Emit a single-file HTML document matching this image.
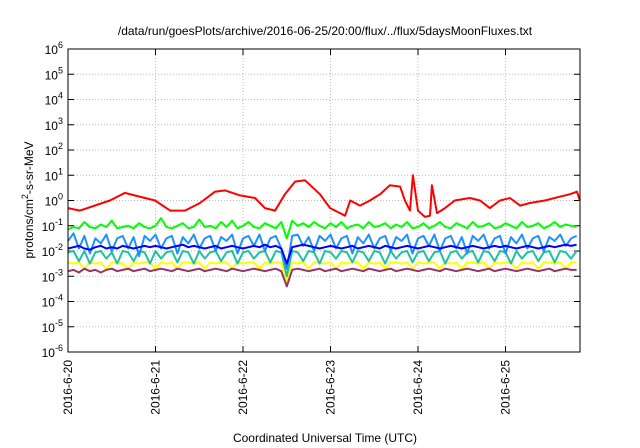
<!DOCTYPE html>
<html><head><meta charset="utf-8"><style>
body{margin:0;background:#fff;}
svg{display:block;font-family:"Liberation Sans",sans-serif;}
</style></head><body>
<svg id="chart" width="640" height="448" viewBox="0 0 640 448"></svg>
<script>
// ---- data ----
const dayLabels = ["2016-6-20","2016-6-21","2016-6-22","2016-6-23","2016-6-24","2016-6-25"];
const yTickExps = [-6,-5,-4,-3,-2,-1,0,1,2,3,4,5,6];
const hours = [0,1.5,3,4.5,6,7.5,9,10.5,12,13.5,15,16.5,18,19.5,21,22.5,24,25.5,27,28.5,30,31.5,33,34.5,36,37.5,39,40.5,42,43.5,45,46.5,48,49.5,51,52.5,54,55.5,57,58.5,60,61.5,63,64.5,66,67.5,69,70.5,72,73.5,75,76.5,78,79.5,81,82.5,84,85.5,87,88.5,90,91.5,93,94.5,96,97.5,99,100.5,102,103.5,105,106.5,108,109.5,111,112.5,114,115.5,117,118.5,120,121.5,123,124.5,126,127.5,129,130.5,132,133.5,135,136.5,138,139.5];
const redHours = [0,3.3,11.5,15.6,21.1,23.9,28.0,32.1,36.2,40.3,43.1,47.2,51.3,54.0,56.8,59.5,62.3,65.0,69.1,71.9,74.6,76.0,77.4,80.1,82.8,85.6,88.3,91.1,92.4,93.8,94.6,96.0,97.9,99.3,99.8,101.2,103.4,106.1,110.2,113.0,115.7,118.5,121.2,124.0,126.7,130.8,134.9,137.7,139.6,140.4];
const redLog = [-0.3,-0.4,0,0.3,0.1,0,-0.4,-0.4,-0.1,0.35,0.4,0.2,0.1,-0.3,-0.4,0.25,0.75,0.8,0.25,-0.3,-0.5,-0.6,0,-0.2,0,0.25,0.6,0.55,0,-0.4,1.0,-0.4,-0.65,-0.6,0.6,-0.5,-0.3,0,0.1,0,-0.3,0,0.1,-0.2,-0.1,0,0.15,0.25,0.35,0];
const greenLog = [-1.15,-1.05,-1.1,-0.85,-1.05,-1.1,-0.95,-1.05,-0.8,-1.1,-1.05,-1.0,-1.1,-0.9,-1.05,-1.1,
 -1.0,-0.7,-1.05,-1.1,-1.0,-0.9,-1.1,-1.05,-0.75,-1.05,-1.0,-1.1,-0.85,-1.05,-0.8,-1.1,
 -1.0,-0.85,-1.05,-1.1,-0.9,-1.0,-1.1,-0.85,-1.5,-0.8,-1.0,-0.9,-1.05,-0.85,-1.0,-1.1,
 -0.9,-1.05,-0.85,-1.1,-1.0,-0.95,-1.1,-0.85,-1.05,-1.0,-0.9,-1.1,-0.95,-1.05,-0.85,-1.1,
 -1.05,-0.9,-1.1,-1.0,-0.85,-1.05,-1.1,-0.9,-1.0,-1.1,-0.85,-1.05,-1.0,-0.9,-1.1,-1.05,
 -0.9,-1.0,-1.1,-0.85,-1.05,-1.0,-0.9,-1.1,-1.0,-0.85,-1.05,-0.95,-1.0,-1.05];
const lightBlueLog = [-1.6,-1.3,-1.9,-1.4,-2.1,-1.5,-1.7,-1.35,-2.0,-1.5,-1.4,-1.9,-1.45,-2.2,-1.4,-1.6,
 -1.35,-1.9,-1.5,-1.4,-2.1,-1.45,-1.7,-1.35,-1.9,-1.5,-1.4,-2.0,-1.45,-1.6,-1.35,-2.1,
 -1.5,-1.4,-1.8,-1.35,-2.0,-1.5,-1.4,-1.9,-2.7,-1.4,-1.35,-1.8,-1.45,-2.0,-1.4,-1.6,
 -1.35,-1.9,-1.5,-1.4,-2.1,-1.45,-1.7,-1.35,-1.9,-1.5,-1.4,-2.0,-1.45,-1.6,-1.35,-2.1,
 -1.5,-1.4,-1.8,-1.35,-2.0,-1.5,-1.4,-1.9,-1.45,-2.1,-1.4,-1.6,-1.35,-1.9,-1.5,-1.4,
 -2.1,-1.45,-1.7,-1.35,-1.9,-1.5,-1.4,-2.0,-1.45,-1.6,-1.35,-1.8,-1.5,-1.4];
const blueLog = [-1.9,-1.85,-1.8,-1.9,-1.95,-1.85,-1.8,-1.9,-1.85,-1.9,-1.8,-1.85,-1.9,-1.85,-1.8,-1.85,
 -1.8,-1.85,-1.9,-1.85,-1.8,-1.75,-1.85,-1.8,-1.85,-1.9,-1.85,-1.8,-1.9,-1.85,-1.8,-1.85,
 -1.9,-1.85,-1.8,-1.85,-1.75,-1.85,-1.8,-1.9,-2.5,-1.85,-1.8,-1.75,-1.8,-1.85,-1.9,-1.85,
 -1.8,-1.85,-1.9,-1.85,-1.8,-1.9,-1.85,-1.8,-1.85,-1.9,-1.8,-1.85,-1.9,-1.85,-1.8,-1.85,
 -1.9,-1.85,-1.8,-1.85,-1.9,-1.85,-1.8,-1.85,-1.9,-1.85,-1.8,-1.85,-1.9,-1.85,-1.8,-1.85,
 -1.8,-1.85,-1.9,-1.85,-1.8,-1.85,-1.9,-1.85,-1.8,-1.85,-1.8,-1.75,-1.8,-1.75];
const tealLog = [-2.05,-2.0,-2.4,-2.0,-2.5,-2.05,-2.0,-2.3,-2.05,-2.5,-2.0,-2.05,-2.4,-2.0,-2.05,-2.5,
 -2.0,-2.3,-2.05,-2.0,-2.45,-2.0,-2.05,-2.5,-2.0,-2.3,-2.05,-2.0,-2.4,-2.05,-2.0,-2.5,
 -2.05,-2.0,-2.3,-2.05,-2.0,-2.45,-2.0,-2.05,-3.0,-2.0,-2.05,-2.4,-2.0,-2.05,-2.5,-2.0,
 -2.05,-2.3,-2.0,-2.05,-2.45,-2.0,-2.05,-2.4,-2.0,-2.05,-2.5,-2.0,-2.3,-2.05,-2.0,-2.45,
 -2.05,-2.0,-2.4,-2.05,-2.0,-2.5,-2.05,-2.0,-2.3,-2.05,-2.0,-2.45,-2.0,-2.05,-2.4,-2.0,
 -2.05,-2.5,-2.0,-2.3,-2.05,-2.0,-2.4,-2.05,-2.0,-2.45,-2.0,-2.05,-2.3,-2.0];
const yellowLog = [-2.45,-2.5,-2.45,-2.7,-2.45,-2.5,-2.45,-2.7,-2.45,-2.45,-2.5,-2.7,-2.45,-2.5,-2.45,-2.45,
 -2.7,-2.45,-2.5,-2.45,-2.7,-2.45,-2.45,-2.5,-2.45,-2.7,-2.45,-2.5,-2.45,-2.45,-2.7,-2.45,
 -2.5,-2.45,-2.45,-2.7,-2.45,-2.5,-2.45,-2.45,-3.2,-2.45,-2.5,-2.45,-2.7,-2.45,-2.45,-2.5,
 -2.45,-2.7,-2.45,-2.5,-2.45,-2.45,-2.7,-2.45,-2.5,-2.45,-2.7,-2.45,-2.45,-2.5,-2.45,-2.7,
 -2.45,-2.5,-2.45,-2.45,-2.7,-2.45,-2.5,-2.45,-2.7,-2.45,-2.45,-2.5,-2.45,-2.7,-2.45,-2.5,
 -2.45,-2.45,-2.7,-2.45,-2.5,-2.45,-2.7,-2.45,-2.45,-2.5,-2.45,-2.7,-2.45,-2.45];
const purpleLog = [-2.8,-2.75,-2.85,-2.7,-2.8,-2.75,-2.85,-2.75,-2.7,-2.8,-2.75,-2.7,-2.8,-2.75,-2.7,-2.8,
 -2.75,-2.7,-2.75,-2.8,-2.7,-2.75,-2.8,-2.75,-2.7,-2.8,-2.75,-2.7,-2.75,-2.8,-2.7,-2.75,
 -2.8,-2.75,-2.7,-2.75,-2.8,-2.75,-2.7,-2.8,-3.4,-2.75,-2.7,-2.75,-2.8,-2.75,-2.7,-2.8,
 -2.75,-2.7,-2.8,-2.75,-2.7,-2.75,-2.8,-2.7,-2.75,-2.8,-2.75,-2.7,-2.8,-2.75,-2.7,-2.75,
 -2.8,-2.75,-2.7,-2.75,-2.8,-2.7,-2.75,-2.8,-2.75,-2.7,-2.75,-2.8,-2.75,-2.7,-2.8,-2.75,
 -2.7,-2.75,-2.8,-2.75,-2.7,-2.75,-2.8,-2.75,-2.7,-2.8,-2.75,-2.7,-2.75,-2.75];

// ---- layout ----
const L=68,R=580,T=49,B=352;
const dayPx=87.5;
const xOf=h=>L+h/24*dayPx;
const yOf=e=>B-(e+6)*(B-T)/12;
const NS="http://www.w3.org/2000/svg";
const svg=document.getElementById('chart');
function mk(tag,attrs,parent){const e=document.createElementNS(NS,tag);for(const k in attrs)e.setAttribute(k,attrs[k]);(parent||svg).appendChild(e);return e;}

const grid=mk('g',{});


yTickExps.forEach(e=>{
  const y=yOf(e);
  if(e>-6&&e<6){mk('line',{x1:L,x2:R,y1:y,y2:y,stroke:'#bbb','stroke-width':1,'stroke-dasharray':'1,2'},grid);}
  mk('line',{x1:L,x2:L+6,y1:y,y2:y,stroke:'#000'});
  mk('line',{x1:R-6,x2:R,y1:y,y2:y,stroke:'#000'});
  const t=mk('text',{x:63,y:y+5,'text-anchor':'end','font-size':12,fill:'#000'});
  
  
  t.textContent='10';
  const s=mk('tspan',{dy:-6,'font-size':9},t);s.textContent=String(e);
});
dayLabels.forEach((d,i)=>{
  const x=L+i*dayPx;
  if(i>0)mk('line',{x1:x,x2:x,y1:T,y2:B,stroke:'#bbb','stroke-width':1,'stroke-dasharray':'1,2'},grid);
  mk('line',{x1:x,x2:x,y1:B,y2:B-6,stroke:'#000'});
  mk('line',{x1:x,x2:x,y1:T,y2:T+6,stroke:'#000'});
  const t=mk('text',{x:0,y:0,'text-anchor':'end','font-size':12,transform:`translate(${x+4},${B+8}) rotate(-90)`});
  
  
  t.textContent=d;
});

function series(name,times,vals,color,w){
  const p=mk('polyline',{points:vals.map((v,i)=>xOf(times[i]).toFixed(1)+','+yOf(v).toFixed(1)).join(' '),fill:'none',stroke:color,'stroke-width':w,'stroke-linejoin':'round'});
  
  
}
series('series-yellow',hours,yellowLog,'#ffff00',2);
series('series-purple',hours,purpleLog,'#993366',2);
series('series-teal',hours,tealLog,'#20c0a0',2);
series('series-green',hours,greenLog,'#00ff00',2);
series('series-light-blue',hours,lightBlueLog,'#1e90ff',2);
series('series-blue',hours,blueLog,'#0000ff',2);
series('series-red',redHours,redLog,'#ff0000',2);

const fr=mk('rect',{x:L,y:T,width:R-L,height:B-T,fill:'none',stroke:'#000','stroke-width':1});



const tt=mk('text',{x:325,y:35,'text-anchor':'middle','font-size':12});


tt.textContent='/data/run/goesPlots/archive/2016-06-25/20:00/flux/../flux/5daysMoonFluxes.txt';
const xt=mk('text',{x:325,y:442,'text-anchor':'middle','font-size':12});


xt.textContent='Coordinated Universal Time (UTC)';
const yt=mk('text',{x:0,y:0,'text-anchor':'middle','font-size':12,transform:'translate(33,200) rotate(-90)'});


yt.textContent='protons/cm';
const sup=mk('tspan',{dy:-5,'font-size':9},yt);sup.textContent='2';
const rest=mk('tspan',{dy:5},yt);rest.textContent='-s-sr-MeV';
</script>
</body></html>
